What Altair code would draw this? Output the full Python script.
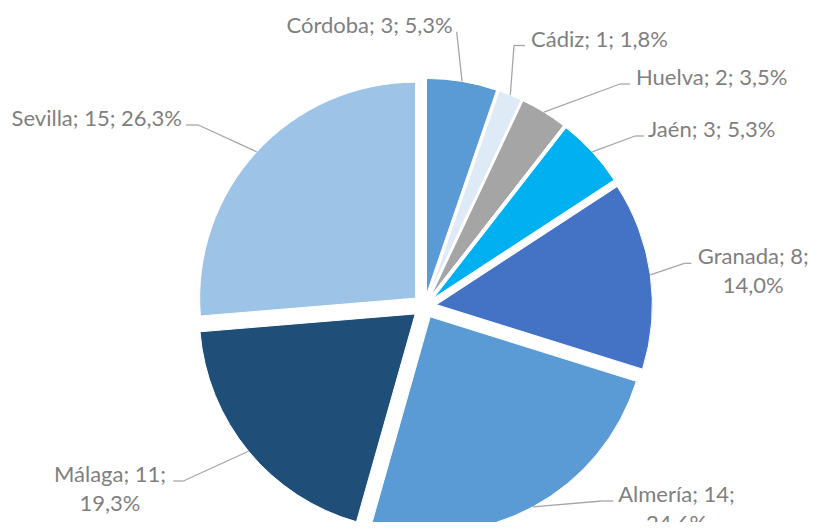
import altair as alt
import pandas as pd

# ---- data ----
names = ["Córdoba", "Cádiz", "Huelva", "Jaén", "Granada", "Almería", "Málaga", "Sevilla"]
values = [3, 1, 2, 3, 8, 14, 11, 15]
pct_text = ["5,3%", "1,8%", "3,5%", "5,3%", "14,0%", "24.6%", "19,3%", "26,3%"]
colors = ["#5B9BD5", "#DEEBF7", "#A5A5A5", "#00B0F0", "#4472C4", "#5B9BD5", "#1F4E79", "#9DC3E6"]

# ---- label layout (Excel-style leader lines) ----
wrap = [False, False, False, False, True, True, True, False]
elbow_dx = [32.2, 89.5, 195.5, 210.5, 259.8, 177.2, -241.2, -226.2]
elbow_dy = [-274.6, -260.8, -222.3, -170.3, -43.0, 194.7, 174.7, -181.3]
run_len = [0, 11, 10, 9, 7, 11.6, -10, -12.3]
text_dx = [-4, 6, 6, 4, 62, 63.2, -63.3, -4]
text_align = ["right", "left", "left", "left", "center", "center", "center", "right"]

CX, CY = 416.5, 298.3
R, D = 216.0, 12.0

labels = []
for n, v, p, w in zip(names, values, pct_text, wrap):
    sep = "\n" if w else " "
    labels.append(f"{n}; {v};{sep}{p}")

df = pd.DataFrame({
    "name": names,
    "value": values,
    "order": list(range(len(names))),
    "label": labels,
    "edx": elbow_dx,
    "edy": elbow_dy,
    "run": run_len,
    "tdx": text_dx,
    "talign": text_align,
})

base = alt.Chart(df).transform_joinaggregate(
    total="sum(value)"
).transform_window(
    cum="sum(value)", sort=[alt.SortField("order")], frame=[None, 0]
).transform_calculate(
    mid="(datum.cum - datum.value/2)/datum.total*2*PI",
).transform_calculate(
    px=f"{CX} + {D}*sin(datum.mid)",
    py=f"{CY} - {D}*cos(datum.mid)",
    sx=f"{CX} + {R + D}*sin(datum.mid)",
    sy=f"{CY} - {R + D}*cos(datum.mid)",
    ex=f"{CX} + datum.edx",
    ey=f"{CY} + datum.edy",
).transform_calculate(
    rx="datum.ex + datum.run",
    tx="datum.ex + datum.run + datum.tdx",
    ty="datum.ey + 1",
)

pie = base.mark_arc(radius=R, stroke="white", strokeWidth=1).encode(
    theta=alt.Theta("value:Q", stack=True),
    order=alt.Order("order:Q"),
    color=alt.Color("name:N", scale=alt.Scale(domain=names, range=colors), legend=None),
    x=alt.X("px:Q", scale=None),
    y=alt.Y("py:Q", scale=None),
)

lead1 = base.mark_rule(color="#A6A6A6", strokeWidth=1.3).encode(
    x=alt.X("sx:Q", scale=None), y=alt.Y("sy:Q", scale=None),
    x2="ex:Q", y2="ey:Q",
)
lead2 = base.mark_rule(color="#A6A6A6", strokeWidth=1.3).encode(
    x=alt.X("ex:Q", scale=None), y=alt.Y("ey:Q", scale=None),
    x2="rx:Q", y2="ey:Q",
)

def text_layer(al):
    return base.transform_filter(f"datum.talign == '{al}'").mark_text(
        align=al, baseline="alphabetic", font="Lato", fontSize=22,
        color="#7F7F7F", lineBreak="\n", lineHeight=28.5,
    ).encode(
        x=alt.X("tx:Q", scale=None), y=alt.Y("ty:Q", scale=None), text="label:N"
    )

chart = alt.layer(
    pie, lead1, lead2, text_layer("left"), text_layer("right"), text_layer("center")
).properties(
    width=803, height=514, padding=0, autosize="none"
).configure_view(strokeWidth=0)

chart.save("out.html", embed_options={"renderer": "svg", "actions": False})
